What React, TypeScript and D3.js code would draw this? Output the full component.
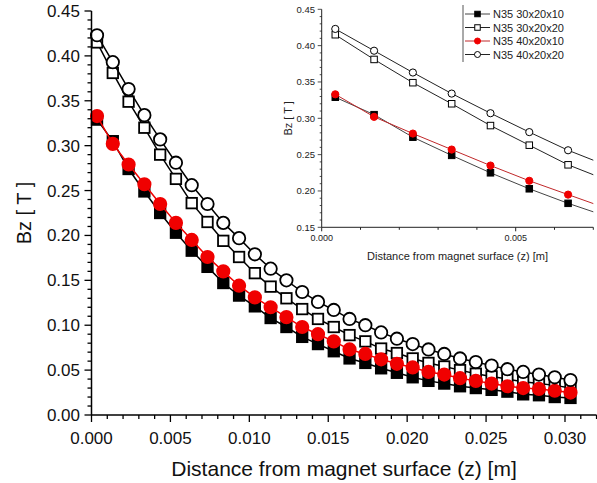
import React from "react";
import * as d3 from "d3";

const seriesNames = ["N35 30x20x10", "N35 30x20x20", "N35 40x20x10", "N35 40x20x20"];

const zValues = [
  0.00035, 0.00135, 0.00235, 0.00335, 0.00435, 0.00535, 0.00635, 0.00735, 0.00835, 0.00935,
  0.01035, 0.01135, 0.01235, 0.01335, 0.01435, 0.01535, 0.01635, 0.01735, 0.01835, 0.01935,
  0.02035, 0.02135, 0.02235, 0.02335, 0.02435, 0.02535, 0.02635, 0.02735, 0.02835, 0.02935,
  0.03035,
];

const bz30x20x10 = [
  0.329, 0.305, 0.274, 0.249, 0.225, 0.203, 0.183, 0.165, 0.147, 0.133, 0.121, 0.108, 0.098,
  0.087, 0.079, 0.071, 0.063, 0.058, 0.052, 0.047, 0.042, 0.038, 0.035, 0.032, 0.030, 0.028,
  0.026, 0.023, 0.022, 0.020, 0.019,
];
const bz30x20x20 = [
  0.415, 0.381, 0.349, 0.320, 0.290, 0.263, 0.236, 0.215, 0.194, 0.176, 0.158, 0.143, 0.130,
  0.118, 0.107, 0.098, 0.089, 0.082, 0.074, 0.069, 0.063, 0.058, 0.054, 0.050, 0.046, 0.043,
  0.040, 0.037, 0.035, 0.033, 0.030,
];
const bz40x20x10 = [
  0.333, 0.302, 0.279, 0.257, 0.235, 0.214, 0.195, 0.176, 0.160, 0.144, 0.131, 0.120, 0.109,
  0.098, 0.090, 0.082, 0.073, 0.068, 0.062, 0.057, 0.053, 0.048, 0.045, 0.041, 0.038, 0.035,
  0.032, 0.030, 0.029, 0.027, 0.025,
];
const bz40x20x20 = [
  0.423, 0.393, 0.363, 0.334, 0.307, 0.281, 0.256, 0.235, 0.214, 0.197, 0.179, 0.163, 0.150,
  0.137, 0.126, 0.117, 0.107, 0.100, 0.092, 0.085, 0.079, 0.073, 0.068, 0.063, 0.059, 0.055,
  0.051, 0.048, 0.045, 0.042, 0.039,
];

const mainXTicks = [0, 0.005, 0.01, 0.015, 0.02, 0.025, 0.03];
const mainYTicks = [0, 0.05, 0.1, 0.15, 0.2, 0.25, 0.3, 0.35, 0.4, 0.45];
const insetXTicks = [0, 0.005];
const insetYTicks = [0.15, 0.2, 0.25, 0.3, 0.35, 0.4, 0.45];

const xTitle = "Distance from magnet surface (z) [m]";
const yTitle = "Bz [ T ]";

const FONT = "'Liberation Sans', Arial, Helvetica, sans-serif";
const RED = "#f00000";

type Style = { shape: "square" | "circle"; filled: boolean; color: string; lineColor: string; insetLine: string };
const styles: Style[] = [
  { shape: "square", filled: true, color: "#000", lineColor: "#000", insetLine: "#444" },
  { shape: "square", filled: false, color: "#000", lineColor: "#000", insetLine: "#222" },
  { shape: "circle", filled: true, color: RED, lineColor: RED, insetLine: "#c0282a" },
  { shape: "circle", filled: false, color: "#000", lineColor: "#000", insetLine: "#222" },
];

const allSeries = [bz30x20x10, bz30x20x20, bz40x20x10, bz40x20x20];

function Marker({ x, y, st, size, sw }: { x: number; y: number; st: Style; size: number; sw: number }) {
  const fill = st.filled ? st.color : "#fff";
  if (st.shape === "circle") {
    return <circle cx={x} cy={y} r={size / 2} fill={fill} stroke={st.color} strokeWidth={sw} />;
  }
  return <rect x={x - size / 2} y={y - size / 2} width={size} height={size} fill={fill} stroke={st.color} strokeWidth={sw} />;
}

export default function App() {
  // main chart
  const x = d3.scaleLinear().domain([0, 0.032]).range([91.5, 91.5 + 0.032 * 15783]);
  const y = d3.scaleLinear().domain([0, 0.45]).range([415, 11]);
  const line = (vals: number[]) =>
    d3.line<number>().x((_, i) => x(zValues[i])).y((v) => y(v))(vals) || "";

  const xMinor = d3.range(0, 33).map((i) => i * 0.001);
  const yMinor = d3.range(0, 46).map((i) => i * 0.01);

  // inset
  const ix = d3.scaleLinear().domain([0, 0.007]).range([321.7, 321.7 + 0.007 * 38800]);
  const iy = d3.scaleLinear().domain([0.15, 0.45]).range([227.3, 9.3]);
  const iline = (vals: number[]) =>
    d3.line<number>().x((_, i) => ix(zValues[i])).y((v) => iy(v))(vals) || "";
  const ixMinor = d3.range(0, 8).map((i) => i * 0.001);
  const iyMinor = d3.range(15, 46).map((i) => i * 0.01);
  const insetIdx = zValues.map((z, i) => i).filter((i) => zValues[i] <= 0.007);

  const legendRows = [14, 27.5, 41, 54.5];

  return (
    <svg width={597} height={483} style={{ position: "absolute", left: 0, top: 0, background: "#fff" }} fontFamily={FONT}>
      <rect x={0} y={0} width={597} height={483} fill="#fff" />
      <defs>
        <clipPath id="insetClip">
          <rect x={ix(0)} y={iy(0.45) - 6} width={ix(0.007) - ix(0)} height={iy(0.15) - iy(0.45) + 6} />
        </clipPath>
      </defs>

      {/* main lines and markers */}
      {allSeries.map((vals, s) => (
        <g key={s}>
          <path d={line(vals)} fill="none" stroke={styles[s].lineColor} strokeWidth={1.5} />
          {vals.map((v, i) => (
            <Marker key={i} x={x(zValues[i])} y={y(v)} st={styles[s]} size={s < 2 ? 10.5 : 12.4} sw={1.8} />
          ))}
        </g>
      ))}

      {/* main axes */}
      <line x1={x(0)} x2={x(0.032)} y1={y(0)} y2={y(0)} stroke="#000" strokeWidth={1.5} />
      <line x1={x(0)} x2={x(0)} y1={y(0)} y2={y(0.45)} stroke="#000" strokeWidth={1.5} />
      {xMinor.map((t, i) => (
        <line key={i} x1={x(t)} x2={x(t)} y1={y(0)} y2={y(0) + (i % 5 === 0 ? 7 : 4)} stroke="#000" strokeWidth={1.3} />
      ))}
      {yMinor.map((t, i) => (
        <line key={i} x1={x(0)} x2={x(0) - (i % 5 === 0 ? 7 : 4)} y1={y(t)} y2={y(t)} stroke="#000" strokeWidth={1.3} />
      ))}
      {mainXTicks.map((t) => (
        <text key={t} x={x(t)} y={444} fontSize={17} textAnchor="middle" fill="#111">
          {d3.format(".3f")(t)}
        </text>
      ))}
      {mainYTicks.map((t) => (
        <text key={t} x={80} y={y(t) + 6} fontSize={17} textAnchor="end" fill="#111">
          {d3.format(".2f")(t)}
        </text>
      ))}
      <text x={344} y={476} fontSize={21} textAnchor="middle" fill="#111">
        {xTitle}
      </text>
      <text transform={`translate(31,${y(0.225)}) rotate(-90)`} fontSize={20} textAnchor="middle" fill="#111">
        {yTitle}
      </text>

      {/* inset */}
      <g clipPath="url(#insetClip)">
        {allSeries.map((vals, s) => (
          <path key={s} d={iline(vals)} fill="none" stroke={styles[s].insetLine} strokeWidth={1} />
        ))}
      </g>
      {allSeries.map((vals, s) => (
        <g key={s}>
          {insetIdx.map((i) => (
            <Marker key={i} x={ix(zValues[i])} y={iy(vals[i])} st={styles[s]} size={s < 2 ? 6.5 : 7.2} sw={1} />
          ))}
        </g>
      ))}
      <line x1={ix(0)} x2={ix(0.007)} y1={iy(0.15)} y2={iy(0.15)} stroke="#222" strokeWidth={1} />
      <line x1={ix(0)} x2={ix(0)} y1={iy(0.15)} y2={iy(0.45)} stroke="#222" strokeWidth={1} />
      {ixMinor.map((t, i) => (
        <line key={i} x1={ix(t)} x2={ix(t)} y1={iy(0.15)} y2={iy(0.15) + (i % 5 === 0 ? 4 : 2.5)} stroke="#222" strokeWidth={1} />
      ))}
      {iyMinor.map((t, i) => (
        <line key={i} x1={ix(0)} x2={ix(0) - (i % 5 === 0 ? 4 : 2)} y1={iy(t)} y2={iy(t)} stroke="#222" strokeWidth={0.8} />
      ))}
      {insetXTicks.map((t) => (
        <text key={t} x={ix(t)} y={241} fontSize={9} textAnchor="middle" fill="#222">
          {d3.format(".3f")(t)}
        </text>
      ))}
      {insetYTicks.map((t) => (
        <text key={t} x={315} y={iy(t) + 3.3} fontSize={9.5} textAnchor="end" fill="#222">
          {d3.format(".2f")(t)}
        </text>
      ))}
      <text x={ix(0.0035)} y={260} fontSize={11} textAnchor="middle" fill="#222">
        {xTitle}
      </text>
      <text transform={`translate(292,${iy(0.3)}) rotate(-90)`} fontSize={11} textAnchor="middle" fill="#222">
        {yTitle}
      </text>

      {/* legend */}
      <line x1={463} x2={463} y1={5} y2={62} stroke="#555" strokeWidth={1} />
      {seriesNames.map((name, s) => (
        <g key={name}>
          <line x1={465} x2={490} y1={legendRows[s]} y2={legendRows[s]} stroke={styles[s].insetLine} strokeWidth={1} />
          <Marker x={477.5} y={legendRows[s]} st={styles[s]} size={s < 2 ? 5.5 : 6} sw={1} />
          <text x={493} y={legendRows[s] + 4} fontSize={11} fill="#222">
            {name}
          </text>
        </g>
      ))}
    </svg>
  );
}
